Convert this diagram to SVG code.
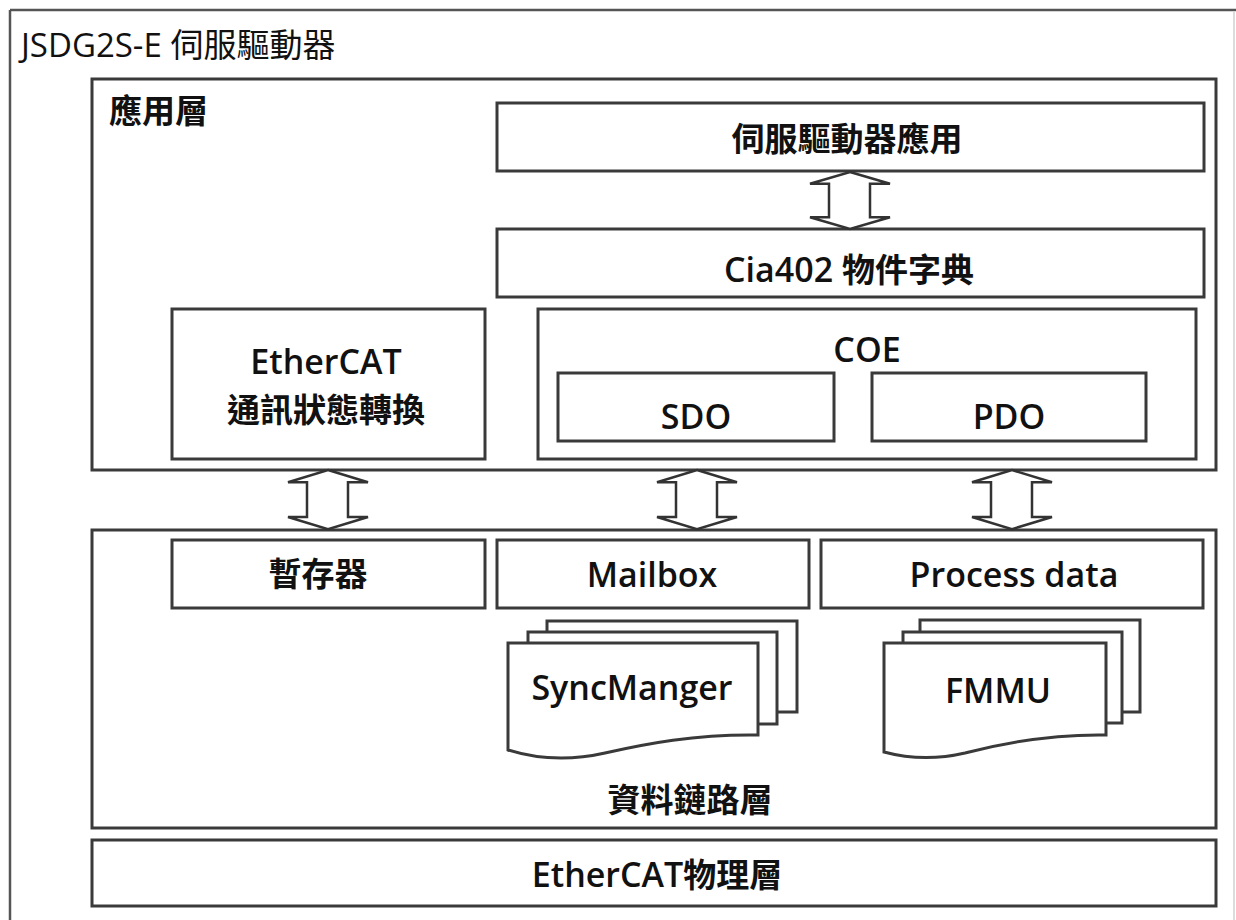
<svg xmlns="http://www.w3.org/2000/svg" width="1236" height="920" viewBox="0 0 1236 920">
<style>
.box{fill:#fff;stroke:#3a3a3a;stroke-width:3}
.arr{fill:#fff;stroke:#333;stroke-width:2.5;stroke-linejoin:miter}
.cj{font-family:"Noto Sans CJK TC","Noto Sans CJK SC",sans-serif;font-weight:700;font-size:33px;fill:#111}
.la{font-family:"Open Sans","Noto Sans CJK TC",sans-serif;font-weight:600;font-size:34px;fill:#111}
.mid{text-anchor:middle}
</style>
<defs>
<path id="dbl" d="M0,0 L40,12 L20,12 L20,46 L40,46 L0,58 L-40,46 L-21,46 L-21,12 L-40,12 Z"/>
</defs>
<rect width="1236" height="920" fill="#fff"/>
<g id="frame">
<line x1="10" y1="10" x2="1236" y2="10" stroke="#555" stroke-width="2.5"/>
<line x1="10" y1="10" x2="10" y2="920" stroke="#555" stroke-width="2.5"/>
<line x1="1234" y1="12" x2="1234" y2="920" stroke="#d0d0d0" stroke-width="1.5"/>
<text x="21" y="57" font-family="'Open Sans','Noto Sans CJK TC',sans-serif" font-size="33" fill="#111">JSDG2S-E <tspan font-family="'Noto Sans CJK TC',sans-serif">伺服驅動器</tspan></text>
</g>
<g id="app-layer">
<rect class="box" x="92" y="79" width="1124" height="391"/>
<text class="cj" x="109" y="123" font-size="32">應用層</text>
</g>
<g id="servo-app">
<rect class="box" x="497" y="103" width="707" height="68"/>
<text class="cj mid" x="847" y="151">伺服驅動器應用</text>
</g>
<g id="cia402">
<rect class="box" x="497" y="229" width="707" height="68"/>
<text class="la mid" x="849" y="282">Cia402 <tspan class="cj">物件字典</tspan></text>
</g>
<g id="ethercat-state">
<rect class="box" x="172" y="309" width="313" height="150"/>
<text class="la mid" x="326" y="374">EtherCAT</text>
<text class="cj mid" x="326" y="422">通訊狀態轉換</text>
</g>
<g id="coe">
<rect class="box" x="538" y="309" width="658" height="150"/>
<text class="la mid" x="867" y="362">COE</text>
</g>
<g id="sdo">
<rect class="box" x="558" y="373" width="276" height="68"/>
<text class="la mid" x="696" y="429">SDO</text>
</g>
<g id="pdo">
<rect class="box" x="872" y="373" width="274" height="68"/>
<text class="la mid" x="1009" y="429">PDO</text>
</g>
<g id="datalink-layer">
<rect class="box" x="92" y="530" width="1124" height="298"/>
<text class="cj mid" x="690" y="812">資料鏈路層</text>
</g>
<g id="register">
<rect class="box" x="172" y="540" width="313" height="68"/>
<text class="cj mid" x="318" y="586">暫存器</text>
</g>
<g id="mailbox">
<rect class="box" x="497" y="540" width="312" height="68"/>
<text class="la mid" x="652" y="587">Mailbox</text>
</g>
<g id="process-data">
<rect class="box" x="821" y="540" width="382" height="68"/>
<text class="la mid" x="1014" y="587">Process data</text>
</g>
<g id="syncmanager">
<rect class="box" x="547" y="621" width="250" height="91"/>
<rect class="box" x="528" y="632" width="249" height="92"/>
<path class="box" d="M508,643 H758 V735 C695,734 645,744 605,753 C570,761 540,760 508,750 Z"/>
<text class="la mid" x="632" y="700">SyncManger</text>
</g>
<g id="fmmu">
<rect class="box" x="920" y="620" width="220" height="92"/>
<rect class="box" x="903" y="632" width="219" height="91"/>
<path class="box" d="M884,643 H1106 V735 C1050,734 1000,744 965,753 C935,760 910,759 884,752 Z"/>
<text class="la mid" x="998" y="703">FMMU</text>
</g>
<g id="physical-layer">
<rect class="box" x="92" y="840" width="1124" height="66"/>
<text class="la mid" x="657" y="887">EtherCAT<tspan class="cj">物理層</tspan></text>
</g>
<g id="connectors">
<use href="#dbl" class="arr" transform="translate(850,172) scale(1,0.983)"/>
<use href="#dbl" class="arr" transform="translate(328,470) scale(1,1.02)"/>
<use href="#dbl" class="arr" transform="translate(697,470) scale(1,1.02)"/>
<use href="#dbl" class="arr" transform="translate(1012,470) scale(1,1.02)"/>
</g>
</svg>
